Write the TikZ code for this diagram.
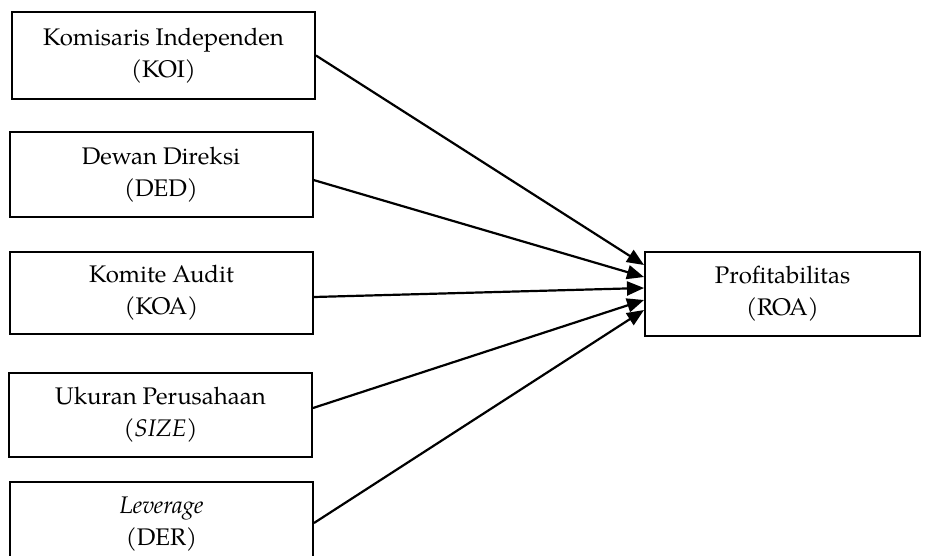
\documentclass[tikz,border=0pt]{standalone}
\usepackage{fontspec}
\setmainfont{TeX Gyre Pagella}
\usetikzlibrary{arrows.meta,calc}
\begin{document}
\begin{tikzpicture}[x=1pt,y=-1pt,
  varbox/.style={draw,line width=2pt,minimum width=303pt,minimum height=85pt,
    align=center,inner sep=0pt,font=\fontsize{24}{32}\selectfont},
  link/.style={line width=2.2pt,-{Triangle[length=17pt,width=14pt]}}]
\useasboundingbox (0,0) rectangle (931,556);
\node[varbox,minimum height=87pt] (koi) at (163.5,55.5) {Komisaris Independen\\(KOI)};
\node[varbox] (ded) at (161,174.5) {Dewan Direksi\\(DED)};
\node[varbox,minimum height=82pt] (koa) at (161.5,293) {Komite Audit\\(KOA)};
\node[varbox,minimum height=84pt] (size) at (160.5,415) {Ukuran Perusahaan\\(\textit{SIZE})};
\node[varbox] (der) at (161.5,524.5) {\textit{Leverage}\\(DER)};
\node[varbox,minimum width=275pt,minimum height=84pt] (roa) at (782.5,294) {Profitabilitas\\(ROA)};
\coordinate (t1) at ($(roa.west)+(0,-29)$);
\coordinate (t2) at ($(roa.west)+(0,-17)$);
\coordinate (t3) at ($(roa.west)+(0,-6)$);
\coordinate (t4) at ($(roa.west)+(0,6)$);
\coordinate (t5) at ($(roa.west)+(0,16)$);
\coordinate (s2) at ($(ded.east)+(0,5.5)$);
\coordinate (s3) at ($(koa.east)+(0,4)$);
\coordinate (s4) at ($(size.east)+(0,-7)$);
\coordinate (s5) at ($(der.east)+(0,-1.5)$);
\draw[link] (koi.east) -- (t1);
\draw[link] (s2) -- (t2);
\draw[link] (s3) -- (t3);
\draw[link] (s4) -- (t4);
\draw[link] (s5) -- (t5);
\end{tikzpicture}
\end{document}
